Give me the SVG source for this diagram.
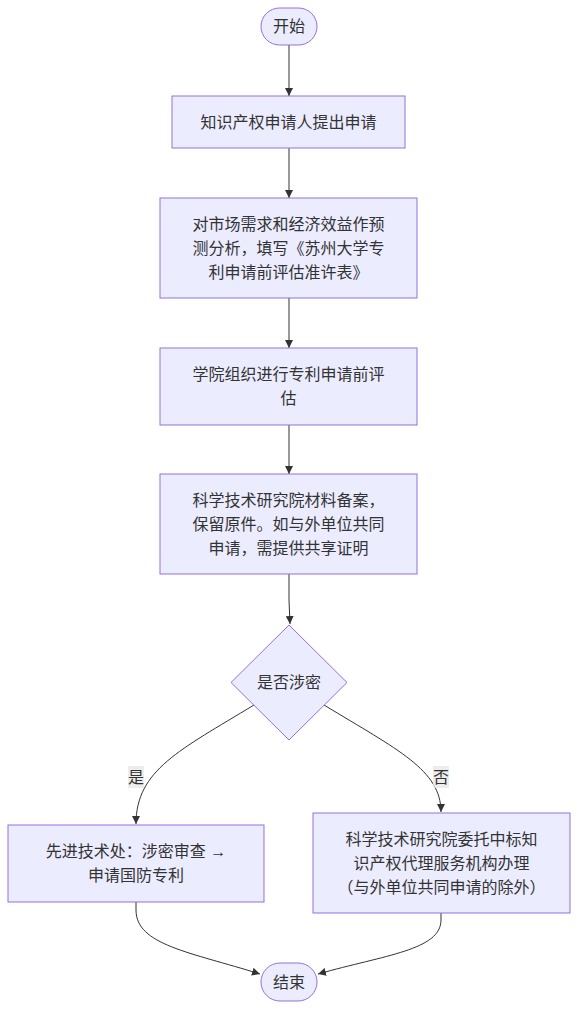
<svg xmlns="http://www.w3.org/2000/svg" width="586" height="1024" viewBox="0 0 586 1024">
  <style>
    .node { fill: #ECECFF; stroke: #9370DB; stroke-width: 1; }
    .txt { font-family: "Liberation Sans", "Noto Sans CJK SC", sans-serif; font-size: 16px; fill: #333333; text-anchor: middle; dominant-baseline: central; }
    .edge { fill: none; stroke: #333333; stroke-width: 1; marker-end: url(#arrow); }
    .lblbg { fill: #E8E8E8; opacity: 0.8; }
  </style>
  <defs>
    <marker id="arrow" viewBox="0 0 10 10" refX="10" refY="5" markerWidth="8" markerHeight="8" orient="auto" markerUnits="userSpaceOnUse">
      <path d="M0,0 L10,5 L0,10 z" fill="#333333"/>
    </marker>
  </defs>
  <rect width="586" height="1024" fill="#ffffff"/>

  <g id="connectors">
    <path class="edge" d="M289,45 L289,96"/>
    <path class="edge" d="M289,148 L289,198"/>
    <path class="edge" d="M289,298 L289,348"/>
    <path class="edge" d="M289,425 L289,474"/>
    <path class="edge" d="M289,574 L289,600 L290,624"/>
    <path class="edge" d="M254,705 C180,750 136,770 136,824"/>
    <path class="edge" d="M324,705 C398,750 441,770 441,812"/>
    <path class="edge" d="M136,902 L136,910 C136,945 190,952 260,974"/>
    <path class="edge" d="M441,913 L441,920 C441,950 385,955 318,974"/>
    <g id="label-yes">
      <rect class="lblbg" x="128" y="766" width="16" height="22"/>
      <text class="txt" x="136" y="777">是</text>
    </g>
    <g id="label-no">
      <rect class="lblbg" x="433" y="766" width="16" height="22"/>
      <text class="txt" x="441" y="777">否</text>
    </g>
  </g>

  <g id="start">
    <rect class="node" x="261" y="8" width="56" height="37" rx="18.5" ry="18.5"/>
    <text class="txt" x="289" y="26.5">开始</text>
  </g>

  <g id="apply">
    <rect class="node" x="172" y="96" width="233" height="52"/>
    <text class="txt" x="288.5" y="122">知识产权申请人提出申请</text>
  </g>

  <g id="forecast">
    <rect class="node" x="160" y="198" width="257" height="100"/>
    <text class="txt" x="288.5" y="224">对市场需求和经济效益作预</text>
    <text class="txt" x="288.5" y="248">测分析，填写《苏州大学专</text>
    <text class="txt" x="288.5" y="272">利申请前评估准许表》</text>
  </g>

  <g id="college">
    <rect class="node" x="160" y="348" width="257" height="77"/>
    <text class="txt" x="288.5" y="374.5">学院组织进行专利申请前评</text>
    <text class="txt" x="288.5" y="398.5">估</text>
  </g>

  <g id="record">
    <rect class="node" x="160" y="474" width="257" height="100"/>
    <text class="txt" x="288.5" y="500">科学技术研究院材料备案，</text>
    <text class="txt" x="288.5" y="524">保留原件。如与外单位共同</text>
    <text class="txt" x="288.5" y="548">申请，需提供共享证明</text>
  </g>

  <g id="secret">
    <polygon class="node" points="289,625 347,682.5 289,740 231,682.5"/>
    <text class="txt" x="289" y="682.5">是否涉密</text>
  </g>

  <g id="defense">
    <rect class="node" x="8" y="825" width="256" height="77"/>
    <text class="txt" x="136" y="851.5">先进技术处：涉密审查 →</text>
    <text class="txt" x="136" y="875.5">申请国防专利</text>
  </g>

  <g id="agency">
    <rect class="node" x="313" y="813" width="257" height="100"/>
    <text class="txt" x="441.5" y="839">科学技术研究院委托中标知</text>
    <text class="txt" x="441.5" y="863">识产权代理服务机构办理</text>
    <text class="txt" x="441.5" y="887">（与外单位共同申请的除外）</text>
  </g>

  <g id="end">
    <rect class="node" x="261" y="963" width="56" height="38" rx="19" ry="19"/>
    <text class="txt" x="289" y="982">结束</text>
  </g>
</svg>
